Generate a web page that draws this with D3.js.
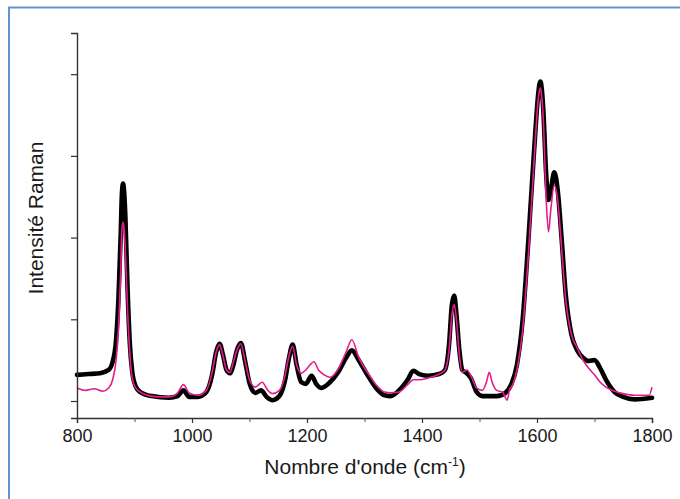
<!DOCTYPE html>
<html><head><meta charset="utf-8">
<script src="https://cdn.jsdelivr.net/npm/d3@7"></script>
<style>html,body{margin:0;padding:0;background:#fff;}svg{display:block;}</style>
</head><body>
<svg id="c" width="680" height="499"></svg>
<script>
// Wavenumbers (cm-1) and Raman intensities (arbitrary units, y tick = 1 unit)
const blackWn = [800,820,840,855,862,868,872,876,878,880,882,884,888,892,896,902,910,930,960,975,985,995,1010,1025,1035,1042,1048,1054,1060,1066,1072,1078,1085,1092,1100,1110,1120,1130,1140,1152,1162,1168,1175,1182,1190,1198,1208,1216,1225,1240,1255,1268,1278,1290,1305,1320,1335,1345,1360,1375,1385,1395,1410,1430,1440,1447,1452,1456,1460,1465,1470,1478,1485,1495,1505,1530,1545,1555,1565,1575,1585,1595,1602,1604,1606,1608,1611,1616,1620,1624,1630,1636,1643,1650,1660,1670,1680,1690,1700,1710,1720,1735,1750,1770,1800];
const blackVal = [0.32,0.33,0.34,0.38,0.48,0.75,1.24,2.03,2.52,2.66,2.56,2.28,1.36,0.69,0.36,0.18,0.11,0.06,0.04,0.06,0.13,0.05,0.05,0.11,0.32,0.60,0.70,0.56,0.38,0.34,0.44,0.62,0.71,0.50,0.22,0.10,0.13,0.05,0.01,0.06,0.26,0.50,0.69,0.44,0.23,0.21,0.31,0.21,0.16,0.23,0.36,0.53,0.62,0.50,0.32,0.16,0.07,0.06,0.13,0.26,0.37,0.33,0.31,0.33,0.38,0.69,1.18,1.29,1.05,0.62,0.38,0.34,0.28,0.11,0.06,0.06,0.10,0.20,0.44,0.99,1.97,3.07,3.75,3.87,3.91,3.84,3.56,2.77,2.46,2.58,2.80,2.58,1.97,1.30,0.81,0.62,0.53,0.49,0.50,0.40,0.26,0.11,0.05,0.02,0.04];

const pinkWn = [800,815,830,845,855,862,868,872,876,878,880,882,884,888,892,896,902,915,940,960,975,985,995,1010,1025,1035,1042,1048,1054,1060,1066,1072,1078,1085,1092,1100,1110,1122,1132,1140,1152,1162,1168,1175,1182,1190,1198,1205,1212,1220,1230,1240,1255,1268,1278,1290,1305,1320,1335,1345,1360,1375,1385,1395,1410,1430,1440,1447,1452,1456,1460,1465,1470,1478,1485,1495,1505,1512,1517,1522,1530,1540,1548,1552,1558,1565,1575,1585,1595,1602,1604,1606,1608,1611,1616,1620,1624,1630,1636,1643,1650,1660,1670,1680,1690,1700,1710,1720,1735,1750,1770,1795,1800];
const pinkVal = [0.16,0.13,0.15,0.12,0.16,0.26,0.50,0.87,1.60,2.08,2.19,2.10,1.85,1.11,0.56,0.28,0.16,0.09,0.05,0.05,0.10,0.20,0.10,0.07,0.13,0.35,0.60,0.69,0.55,0.38,0.35,0.48,0.62,0.70,0.50,0.26,0.17,0.23,0.13,0.09,0.13,0.32,0.53,0.67,0.44,0.34,0.38,0.44,0.48,0.38,0.32,0.29,0.40,0.60,0.75,0.53,0.35,0.20,0.11,0.10,0.11,0.20,0.26,0.26,0.28,0.33,0.38,0.62,1.05,1.18,0.99,0.56,0.35,0.38,0.31,0.16,0.13,0.23,0.35,0.23,0.13,0.11,0.01,0.13,0.20,0.38,0.87,1.79,2.95,3.68,3.79,3.83,3.74,3.44,2.46,2.07,2.34,2.64,2.46,1.85,1.24,0.81,0.65,0.50,0.40,0.32,0.23,0.17,0.12,0.09,0.07,0.07,0.17];

const xTicks = [800,1000,1200,1400,1600,1800];
const xMinorTicks = [900,1100,1300,1500,1700];
const yTicks = [0,1,2,3,4];

const svg = d3.select('#c');
const font = '"Liberation Sans", Arial, sans-serif';

// frame
svg.append('rect').attr('x',9).attr('y',7.5).attr('width',720).attr('height',540)
  .attr('fill','none').attr('stroke','#6494cf').attr('stroke-width',2);

const x = d3.scaleLinear().domain([800,1800]).range([77,652]);
const y = d3.scaleLinear().domain([-0.208,4.504]).range([418,33]);

const line = d3.line().x(d=>x(d[0])).y(d=>y(d[1])).curve(d3.curveMonotoneX);

const black = blackWn.map((w,i)=>[w,blackVal[i]]);
const pink = pinkWn.map((w,i)=>[w,pinkVal[i]]);

svg.append('path').datum(black).attr('d',line).attr('fill','none')
  .attr('stroke','#000').attr('stroke-width',4.6).attr('stroke-linejoin','round').attr('stroke-linecap','round');
svg.append('path').datum(pink).attr('d',line).attr('fill','none')
  .attr('stroke','#e61c8c').attr('stroke-width',1.6).attr('stroke-linejoin','round');

// x axis
const gx = svg.append('g').attr('transform','translate(0,418)')
  .call(d3.axisBottom(x).tickValues(xTicks).tickSize(5).tickPadding(6).tickFormat(d3.format('d')));
gx.select('.domain').attr('stroke','#333').attr('stroke-width',1.4);
gx.selectAll('.tick line').attr('stroke','#333').attr('stroke-width',1.2);
gx.selectAll('.tick text').attr('font-family',font).attr('font-size',18).attr('fill','#1a1a1a');
const gxm = svg.append('g').attr('transform','translate(0,418)')
  .call(d3.axisBottom(x).tickValues(xMinorTicks).tickSize(4).tickFormat(''));
gxm.select('.domain').remove();
gxm.selectAll('.tick line').attr('stroke','#555').attr('stroke-width',1);

// y axis
const gy = svg.append('g').attr('transform','translate(77,0)')
  .call(d3.axisLeft(y).tickValues(yTicks).tickSize(6).tickFormat(''));
gy.select('.domain').attr('stroke','#333').attr('stroke-width',1.4);
gy.selectAll('.tick line').attr('stroke','#333').attr('stroke-width',1.2);

// titles
const xt = svg.append('text').attr('x',365).attr('y',474).attr('text-anchor','middle')
  .attr('font-family',font).attr('font-size',21).attr('fill','#1a1a1a');
xt.append('tspan').text("Nombre d'onde (cm");
xt.append('tspan').attr('dy',-8).attr('font-size',12).text('-1');
xt.append('tspan').attr('dy',8).text(')');

svg.append('text').attr('transform','translate(43,218) rotate(-90)').attr('text-anchor','middle')
  .attr('font-family',font).attr('font-size',21).attr('fill','#1a1a1a').text('Intensité Raman');
</script>
</body></html>
